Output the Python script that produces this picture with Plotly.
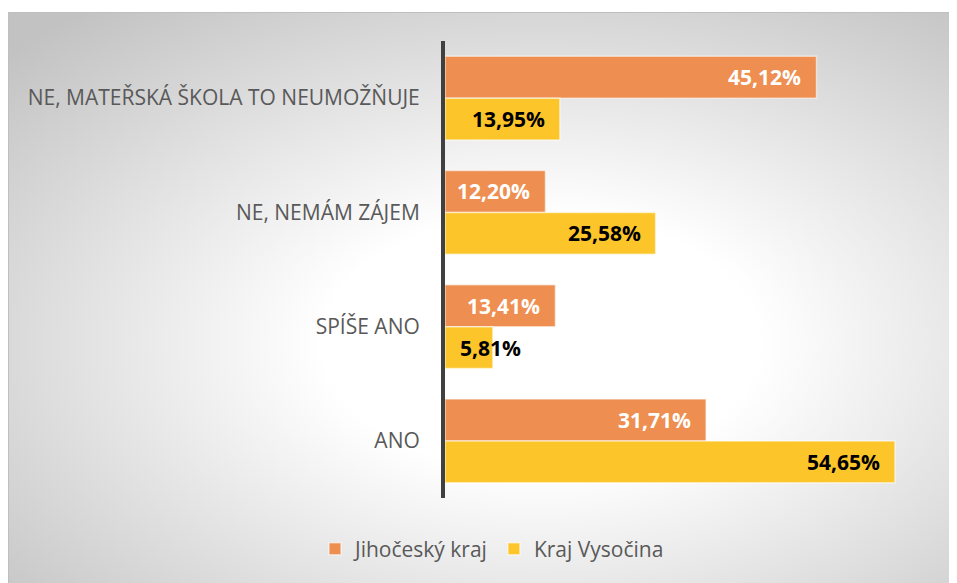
import plotly.graph_objects as go
import urllib.parse

categories = ["NE, MATEŘSKÁ ŠKOLA TO NEUMOŽŇUJE", "NE, NEMÁM ZÁJEM", "SPÍŠE ANO", "ANO"]
jihocesky = [45.12, 12.20, 13.41, 31.71]
vysocina = [13.95, 25.58, 5.81, 54.65]
series_names = ["Jihočeský kraj", "Kraj Vysočina"]
colors = ["#EE8E50", "#FCC52A"]

# page has an 8px body margin, so figure pixels = page pixels - 8
W, H = 975, 583
ML, MR, MT, MB = 437, 44, 33, 93
PW = W - ML - MR
PH = H - MT - MB

def fmt(v):
    return f"{v:.2f}".replace(".", ",") + "%"

fig = go.Figure()
for name, vals, col in zip(series_names, [jihocesky, vysocina], colors):
    fig.add_trace(go.Bar(
        y=categories, x=vals, name=name, orientation="h",
        marker=dict(color=col, line=dict(color="rgba(255,255,255,0.55)", width=1.5)),
        hoverinfo="skip",
    ))

annotations = []
for vals, shift, tcol in [(jihocesky, 21, "white"), (vysocina, -21, "black")]:
    for c, v in zip(categories, vals):
        small = v < 8
        annotations.append(dict(
            x=v, y=c, xref="x", yref="y", text=fmt(v), showarrow=False,
            xanchor="center" if small else "right",
            xshift=-2 if small else -13, yshift=shift,
            font=dict(family="Open Sans", size=21, color=tcol, weight="bold"),
        ))

BW, BH = 970, 571
svg = ('<svg xmlns="http://www.w3.org/2000/svg" width="970" height="571" viewBox="0 0 970 571" preserveAspectRatio="none">'
       '<defs><radialGradient id="g" cx="0.55" cy="0.58" r="0.75" gradientUnits="objectBoundingBox">'
       '<stop offset="0" stop-color="#ffffff"/><stop offset="0.3" stop-color="#ffffff"/>'
       '<stop offset="1" stop-color="#c2c2c2"/></radialGradient></defs>'
       '<rect x="0" y="0" width="970" height="571" fill="url(#g)"/>'
       '<rect x="0.5" y="0.5" width="990" height="600" fill="none" stroke="#bfbfbf" stroke-width="1"/></svg>')
src = "data:image/svg+xml;charset=utf-8," + urllib.parse.quote(svg)

PLOT_BOTTOM = H - MB  # in figure pixels from top
x0 = (0 - ML) / PW
x1 = (BW - ML) / PW
ytop = (PLOT_BOTTOM - 4) / PH
ybot = (PLOT_BOTTOM - 4 - BH) / PH

fig.update_layout(
    width=W, height=H,
    margin=dict(l=ML, r=MR, t=MT, b=MB),
    paper_bgcolor="white", plot_bgcolor="rgba(0,0,0,0)",
    barmode="group", bargap=0.265, bargroupgap=0,
    images=[dict(source=src, xref="paper", yref="paper", x=x0, y=ytop,
                 sizex=x1 - x0, sizey=ytop - ybot, xanchor="left", yanchor="top",
                 sizing="stretch", layer="below")],
    annotations=annotations,
    xaxis=dict(range=[0, 60], visible=False, fixedrange=True),
    yaxis=dict(autorange="reversed", showline=True, linecolor="#404040", linewidth=4,
               showgrid=False, zeroline=False, ticks="", ticklabelstandoff=17,
               tickfont=dict(family="Open Sans", size=21, color="#595959")),
    legend=dict(orientation="h", x=(484 - ML) / PW, xanchor="center",
                y=(PLOT_BOTTOM - 541) / PH, yanchor="middle",
                font=dict(family="Open Sans", size=21, color="#595959"),
                bgcolor="rgba(0,0,0,0)", itemclick=False),
    showlegend=True,
)

fig.write_html("out.html", post_script="document.documentElement.style.overflow='hidden';document.body.style.overflow='hidden';")
